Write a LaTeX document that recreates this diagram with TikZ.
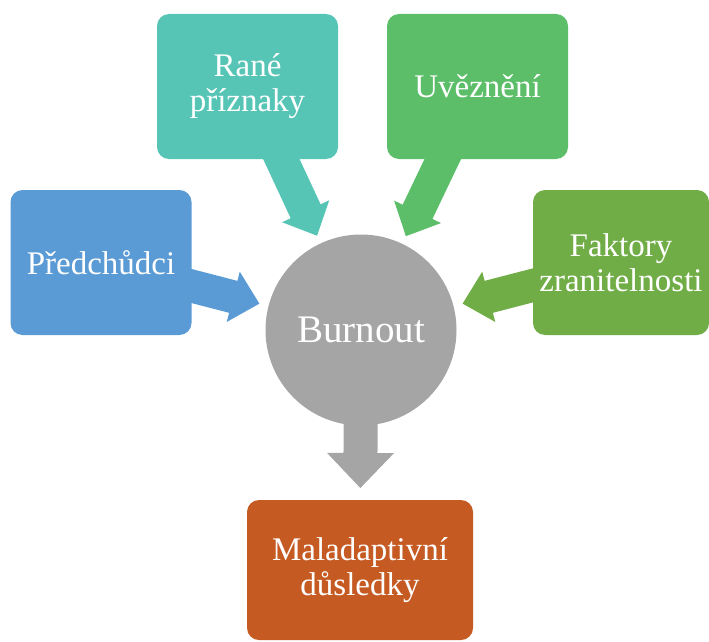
\documentclass[tikz,border=0pt]{standalone}
\usepackage{fontspec}
\setmainfont{Liberation Serif}
\usetikzlibrary{calc,backgrounds}

\definecolor{predblue}{HTML}{5B9BD5}
\definecolor{ranteal}{HTML}{57C5B6}
\definecolor{uvgreen}{HTML}{5CBE69}
\definecolor{fakgreen}{HTML}{70AD47}
\definecolor{malorange}{HTML}{C55A22}
\definecolor{burngray}{HTML}{A5A5A5}

% fat block arrow: colour, from, to, half shaft, half head, head length
\newcommand{\fatarrow}[6]{%
  \coordinate (fa-b) at ($(#3)!#6!(#2)$);
  \fill [#1] ($(#2)!#4!90:(#3)$) -- ($(fa-b)!#4!-90:(#2)$)
    -- ($(fa-b)!#5!-90:(#2)$) -- (#3) -- ($(fa-b)!#5!90:(#2)$)
    -- ($(fa-b)!#4!90:(#2)$) -- ($(#2)!#4!-90:(#3)$) -- cycle;}

\tikzset{
  box/.style={rounded corners=12pt, minimum width=181pt, minimum height=145pt,
    inner sep=0pt, text=white, align=center,
    font=\fontsize{33}{35}\selectfont},
}

\begin{document}
\begin{tikzpicture}[x=1pt,y=-1pt]
            \useasboundingbox (0,0) rectangle (709,642);

            \node [box,fill=predblue] (pred) at (101,262.5) {Předchůdci};
            \node [box,fill=ranteal] (rane) at (247.5,86.5) {Rané\\příznaky};
            \node [box,fill=uvgreen] (uvez) at (477.5,86.5) {Uvěznění};
            \node [box,fill=fakgreen,minimum width=176pt] (fakt) at (621,262.5)
               {Faktory\\zranitelnosti};
            \node [box,fill=malorange,minimum width=226pt,minimum height=140pt]
               (malad) at (360,570) {Maladaptivní\\důsledky};
            \node [circle,fill=burngray,minimum size=191pt,inner sep=0pt,
               text=white,font=\fontsize{39}{41}\selectfont]
               (burn) at (361,330) {Burnout};

            \coordinate (tip1) at ($(burn.center)!105pt!(pred.center)$);
            \coordinate (tip2) at ($(burn.center)!104pt!(rane.center)$);
            \coordinate (tip3) at ($(burn.center)!104pt!(uvez.center)$);
            \coordinate (tip4) at ($(burn.center)!105pt!(fakt.center)$);
            \coordinate (tip5) at ($(burn.center)!158pt!(malad.center)$);

            \begin{pgfonlayer}{background}
               \fatarrow{predblue}{pred.center}{tip1}{16.5pt}{26pt}{27pt}
               \fatarrow{ranteal}{rane.center}{tip2}{16.5pt}{26pt}{27pt}
               \fatarrow{uvgreen}{uvez.center}{tip3}{16.5pt}{26pt}{27pt}
               \fatarrow{fakgreen}{fakt.center}{tip4}{16.5pt}{26pt}{27pt}
               \fatarrow{burngray}{burn.center}{tip5}{17pt}{33.5pt}{35pt}
            \end{pgfonlayer}
         \end{tikzpicture}
\end{document}
